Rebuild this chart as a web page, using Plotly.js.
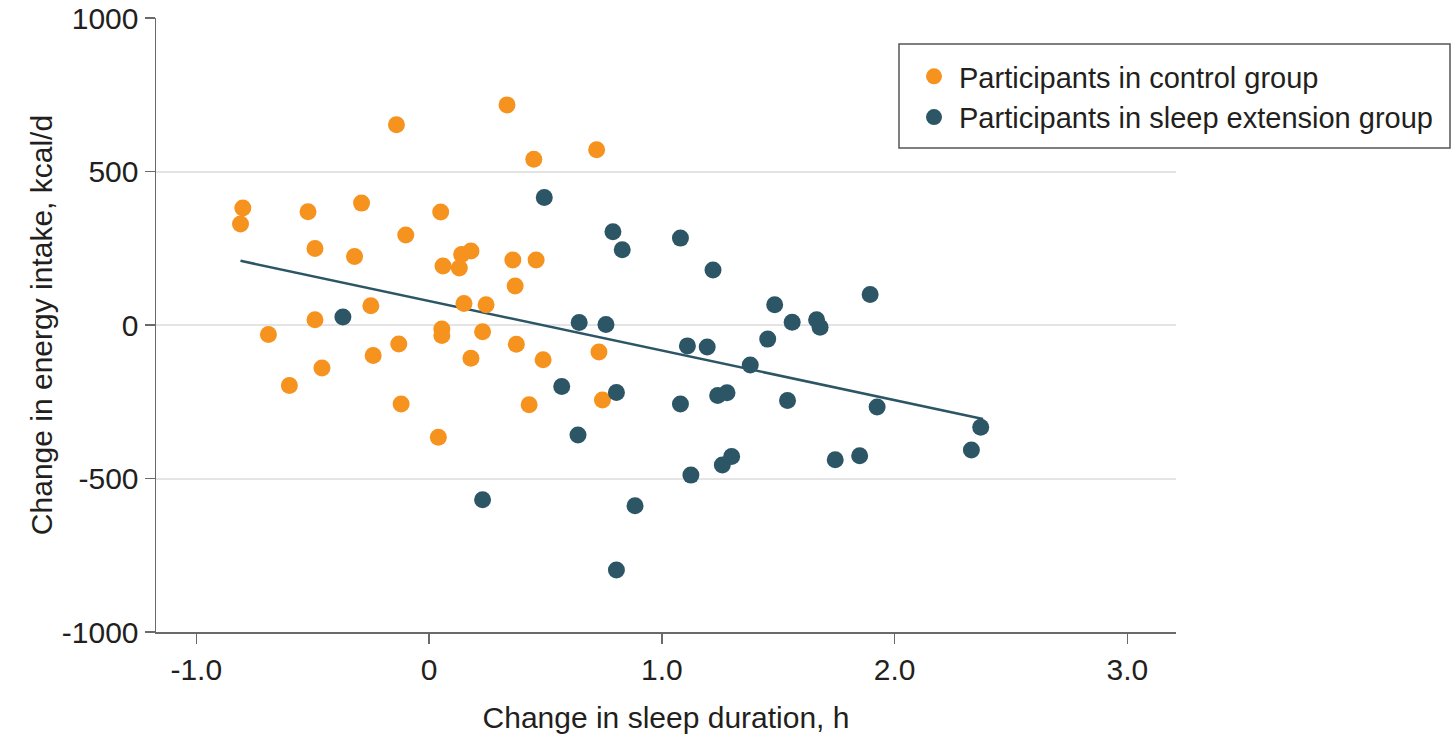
<!DOCTYPE html>
<html>
<head>
<meta charset="utf-8">
<script src="https://cdn.plot.ly/plotly-3.0.1.min.js"></script>
<style>
  html, body { margin: 0; padding: 0; background: #ffffff; }
  #chart { width: 1456px; height: 738px; }
</style>
</head>
<body>
<div id="chart"></div>
<script>
// Change in sleep duration (h) and change in energy intake (kcal/d)
const controlSleep = [-0.80, -0.81, -0.69, -0.60, -0.52, -0.49, -0.49, -0.46, -0.32, -0.29,
  -0.25, -0.24, -0.14, -0.13, -0.12, -0.10, 0.04, 0.05, 0.06, 0.055,
  0.055, 0.14, 0.18, 0.13, 0.15, 0.18, 0.23, 0.245, 0.335, 0.36,
  0.37, 0.375, 0.43, 0.45, 0.46, 0.49, 0.72, 0.73, 0.745];
const controlIntake = [381, 329, -31, -197, 369, 17, 249, -140, 223, 397,
  63, -99, 652, -62, -257, 293, -366, 368, 192, -13,
  -34, 230, 241, 186, 70, -108, -22, 66, 717, 212,
  127, -63, -260, 540, 212, -113, 571, -88, -244];

const extensionSleep = [-0.37, 0.23, 0.495, 0.57, 0.645, 0.64, 0.76, 0.79, 0.805, 0.805,
  0.83, 0.885, 1.08, 1.08, 1.11, 1.125, 1.195, 1.22, 1.24, 1.26,
  1.28, 1.30, 1.38, 1.455, 1.485, 1.54, 1.56, 1.665, 1.68, 1.745,
  1.85, 1.895, 1.925, 2.33, 2.37];
const extensionIntake = [26, -569, 415, -200, 8, -358, 2, 304, -220, -798,
  245, -589, 283, -257, -68, -489, -72, 179, -230, -456,
  -221, -428, -130, -46, 66, -246, 9, 17, -7, -439,
  -426, 99, -267, -407, -333];

// Fitted regression line end points
const fitSleep = [-0.81, 2.38];
const fitIntake = [209, -306];

// Axis ticks
const xTickValues = [-1, 0, 1, 2, 3];
const xTickLabels = ['-1.0', '0', '1.0', '2.0', '3.0'];
const yTickValues = [-1000, -500, 0, 500, 1000];
const yTickLabels = ['-1000', '-500', '0', '500', '1000'];

const seriesNames = ['Participants in control group', 'Participants in sleep extension group'];

const ORANGE = '#F6921E';
const TEAL = '#2C5665';
const FONT = 'Liberation Sans, Arial, sans-serif';
const TEXT = '#231F20';
const AXIS = '#6a6a6a';

const traces = [
  {
    x: fitSleep, y: fitIntake, type: 'scatter', mode: 'lines',
    line: { color: TEAL, width: 2.5 }, showlegend: false, hoverinfo: 'skip'
  },
  {
    x: controlSleep, y: controlIntake, type: 'scatter', mode: 'markers',
    name: seriesNames[0],
    marker: { color: ORANGE, size: 17, line: { width: 0 } }
  },
  {
    x: extensionSleep, y: extensionIntake, type: 'scatter', mode: 'markers',
    name: seriesNames[1],
    marker: { color: TEAL, size: 17, line: { width: 0 } }
  }
];

// plot area in pixels: x 156..1176, y 18..632
const layout = {
  width: 1456, height: 738,
  margin: { l: 156, r: 280, t: 18, b: 106, autoexpand: false },
  paper_bgcolor: '#ffffff', plot_bgcolor: '#ffffff',
  font: { family: FONT, size: 30, color: TEXT },
  showlegend: true,
  legend: {
    xref: 'container', yref: 'container',
    x: 909 / 1456, xanchor: 'left', y: 1 - 51 / 738, yanchor: 'top',
    borderwidth: 0, bgcolor: 'rgba(0,0,0,0)',
    font: { family: FONT, size: 29, color: TEXT },
    itemwidth: 40, tracegroupgap: 0
  },
  shapes: [{
    type: 'rect', xref: 'paper', yref: 'paper', layer: 'above',
    x0: (899 - 156) / 1020, x1: (1450 - 156) / 1020,
    y0: (632 - 148) / 614, y1: (632 - 44) / 614,
    line: { color: '#555555', width: 1.5 }, fillcolor: 'rgba(0,0,0,0)'
  }],
  xaxis: {
    range: [-1.173, 3.209], tickmode: 'array', tickvals: xTickValues, ticktext: xTickLabels,
    ticks: 'outside', ticklen: 10, tickwidth: 1.5, tickcolor: AXIS,
    showline: true, linecolor: AXIS, linewidth: 1.5,
    showgrid: false, zeroline: false, automargin: false,
    tickfont: { family: FONT, size: 30, color: TEXT },
    title: { text: 'Change in sleep duration, h', font: { family: FONT, size: 30, color: TEXT }, standoff: 22 },
    fixedrange: true
  },
  yaxis: {
    range: [-1000, 1000], tickmode: 'array', tickvals: yTickValues, ticktext: yTickLabels,
    ticks: 'outside', ticklen: 10, tickwidth: 1.5, tickcolor: AXIS,
    showline: true, linecolor: AXIS, linewidth: 1.5,
    showgrid: true, gridcolor: '#e4e4e4', gridwidth: 2, zeroline: false, automargin: false,
    tickfont: { family: FONT, size: 30, color: TEXT },
    title: { text: 'Change in energy intake, kcal/d', font: { family: FONT, size: 30, color: TEXT }, standoff: 0 },
    fixedrange: true
  }
};

Plotly.newPlot('chart', traces, layout, { displayModeBar: false, staticPlot: true });
</script>
</body>
</html>
